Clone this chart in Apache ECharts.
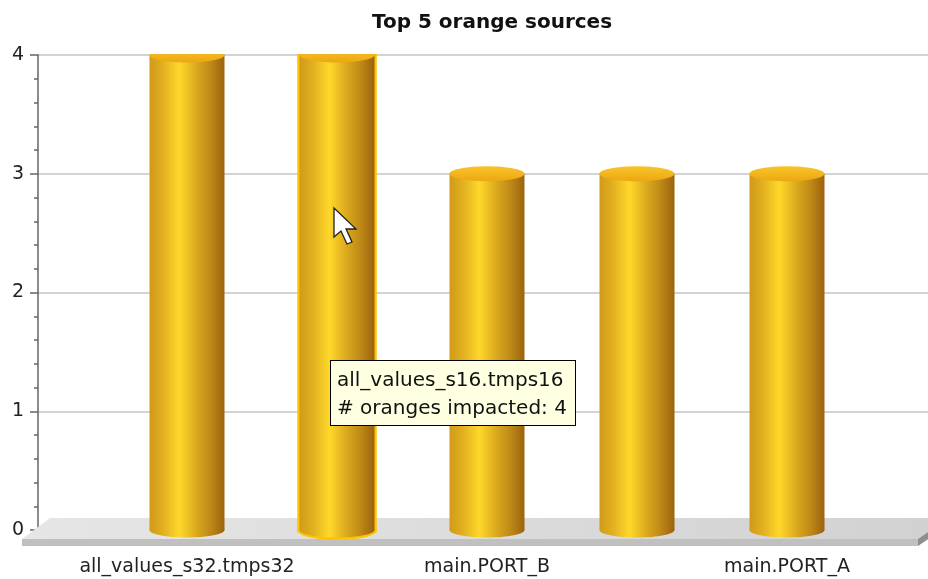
<!DOCTYPE html>
<html>
<head>
<meta charset="utf-8">
<style>
  html, body { margin: 0; padding: 0; background: #fff; }
  #chart { width: 928px; height: 579px; }
</style>
<script src="https://cdn.jsdelivr.net/npm/echarts@6/dist/echarts.min.js"></script>
</head>
<body>
<div id="chart"></div>
<script>
// Top 5 sources and the number of oranges each one impacts
const categories = [
  'all_values_s32.tmps32',
  'all_values_s16.tmps16',
  'main.PORT_B',
  'main.PORT_C',
  'main.PORT_A'
];
const impacted = [4, 4, 3, 3, 3];
const yTicks = [0, 1, 2, 3, 4];
const hoveredIndex = 1;

const FONT = '"DejaVu Sans", Tahoma, sans-serif';

const bodyGradient = new echarts.graphic.LinearGradient(0, 0, 1, 0, [
  { offset: 0, color: '#d09a18' },
  { offset: 0.18, color: '#e2b021' },
  { offset: 0.4, color: '#ffd82a' },
  { offset: 0.62, color: '#dcaa1f' },
  { offset: 0.82, color: '#bd8816' },
  { offset: 1, color: '#9c620e' }
]);
const capGradient = new echarts.graphic.LinearGradient(0, 0, 0, 1, [
  { offset: 0, color: '#f9c429' },
  { offset: 1, color: '#eca712' }
]);

// Cylinder: a body from 0 to the value, with elliptical ends centred on both lines;
// anything above the top of the plot is cut off
function renderCylinder(params, api) {
  const idx = api.value(0);
  const val = api.value(1);
  const base = api.coord([idx, 0]);
  const top = api.coord([idx, val]);
  const w = api.size([1, 0])[0] * 0.5;
  const rx = w / 2;
  const ry = 7.5;
  const cs = params.coordSys;
  const children = [];
  const shapes = [
    { type: 'ellipse', shape: { cx: base[0], cy: base[1], rx: rx, ry: ry } },
    { type: 'rect', shape: { x: base[0] - rx, y: top[1], width: w, height: base[1] - top[1] } },
    { type: 'ellipse', shape: { cx: top[0], cy: top[1], rx: rx, ry: ry } }
  ];
  if (params.dataIndex === hoveredIndex) {
    shapes.forEach(s => children.push({
      type: s.type, shape: s.shape,
      style: { fill: '#ffc400', stroke: '#ffc400', lineWidth: 4.5 }
    }));
  }
  children.push({ type: 'ellipse', shape: shapes[0].shape, style: { fill: bodyGradient } });
  children.push({ type: 'rect', shape: shapes[1].shape, style: { fill: bodyGradient } });
  children.push({ type: 'ellipse', shape: shapes[2].shape, style: { fill: capGradient } });
  return {
    type: 'group',
    clipPath: { type: 'rect', shape: { x: cs.x - 20, y: cs.y - 1, width: cs.width + 40, height: cs.height + 40 } },
    children: children
  };
}

const chart = echarts.init(document.getElementById('chart'), null, { renderer: 'canvas' });

const option = {
  animation: false,
  backgroundColor: '#ffffff',
  title: {
    text: 'Top 5 orange sources',
    left: 487, top: 8, textAlign: 'center',
    textStyle: { fontFamily: FONT, fontWeight: 'bold', fontSize: 20, color: '#111' }
  },
  tooltip: {
    trigger: 'item',
    triggerOn: 'none',
    alwaysShowContent: true,
    transitionDuration: 0,
    position: [330, 360],
    backgroundColor: '#ffffe1',
    borderColor: '#000',
    borderWidth: 1,
    padding: [4, 8, 4, 6],
    extraCssText: 'box-shadow:none;border-radius:0;line-height:28px;',
    textStyle: { fontFamily: FONT, fontSize: 20, color: '#111' },
    formatter: p => p.name + '<br/># oranges impacted: ' + p.value[1]
  },
  grid: [
    { left: 38, right: 0, top: 55, bottom: 49 },
    { left: 112, right: 66, top: 55, bottom: 49 }
  ],
  xAxis: [
    { type: 'value', gridIndex: 0, min: 0, max: 1, show: false },
    {
      type: 'category', gridIndex: 1, data: categories,
      offset: 13,
      axisLine: { show: false },
      axisTick: { show: true, alignWithLabel: true, interval: 1, length: 9,
                  lineStyle: { color: '#555', width: 1.5 } },
      axisLabel: { interval: 1, margin: 15, fontFamily: FONT, fontSize: 19, color: '#222' },
      splitLine: { show: false }
    }
  ],
  yAxis: [
    {
      type: 'value', gridIndex: 0, min: yTicks[0], max: yTicks[yTicks.length - 1], interval: 1,
      axisLine: { show: true, lineStyle: { color: '#666', width: 1.5 } },
      axisTick: { show: true, length: 8, lineStyle: { color: '#666', width: 1.5 } },
      minorTick: { show: true, splitNumber: 5, length: 4, lineStyle: { color: '#666', width: 1.5 } },
      axisLabel: { margin: 14, fontFamily: FONT, fontSize: 19, color: '#222',
                   verticalAlign: 'middle', padding: [4, 0, 0, 0] },
      splitLine: { show: true, lineStyle: { color: '#c4c4c4', width: 1.5 } }
    },
    { type: 'value', gridIndex: 1, min: 0, max: 4, show: false }
  ],
  series: [{
    type: 'custom',
    name: '# oranges impacted',
    xAxisIndex: 1, yAxisIndex: 1,
    z: 3,
    renderItem: renderCylinder,
    encode: { x: 0, y: 1 },
    data: impacted.map((v, i) => ({ name: categories[i], value: [i, v] }))
  }]
};
chart.setOption(option);

// 3D floor under the bars, placed from the zero line of the axis
const origin = chart.convertToPixel({ xAxisIndex: 0, yAxisIndex: 0 }, [0, 0]);
const farRight = chart.convertToPixel({ xAxisIndex: 0, yAxisIndex: 0 }, [1, 0]);
const ax = origin[0], y0 = origin[1], xr = farRight[0];
const backY = y0 - 12, frontY = y0 + 9, bottomY = y0 + 16;
const frontL = ax - 16, backL = ax + 12, frontR = xr - 10, backR = xr + 20;

chart.setOption({
  graphic: [
    {
      type: 'polygon', z: 1, silent: true,
      shape: { points: [[backL, backY], [backR, backY], [frontR, frontY], [frontL, frontY]] },
      style: { fill: new echarts.graphic.LinearGradient(0, 0, 1, 0, [
        { offset: 0, color: '#e6e6e6' }, { offset: 1, color: '#d1d1d1' }]) }
    },
    {
      type: 'rect', z: 1, silent: true,
      shape: { x: frontL, y: frontY, width: frontR - frontL, height: bottomY - frontY },
      style: { fill: '#c0c0c0' }
    },
    {
      type: 'polygon', z: 1, silent: true,
      shape: { points: [[frontR, frontY], [backR, backY], [backR, backY + 8], [frontR, bottomY]] },
      style: { fill: '#8e8e8e' }
    },
    {
      // mouse pointer resting over the chart
      type: 'polygon', z: 100, silent: true,
      shape: { points: [[334, 208], [334, 237], [341, 231], [347, 244], [352, 242], [346, 229], [356, 229]] },
      style: { fill: '#ffffff', stroke: '#222', lineWidth: 1.3 }
    }
  ]
});

chart.dispatchAction({ type: 'showTip', seriesIndex: 0, dataIndex: hoveredIndex });
</script>
</body>
</html>
